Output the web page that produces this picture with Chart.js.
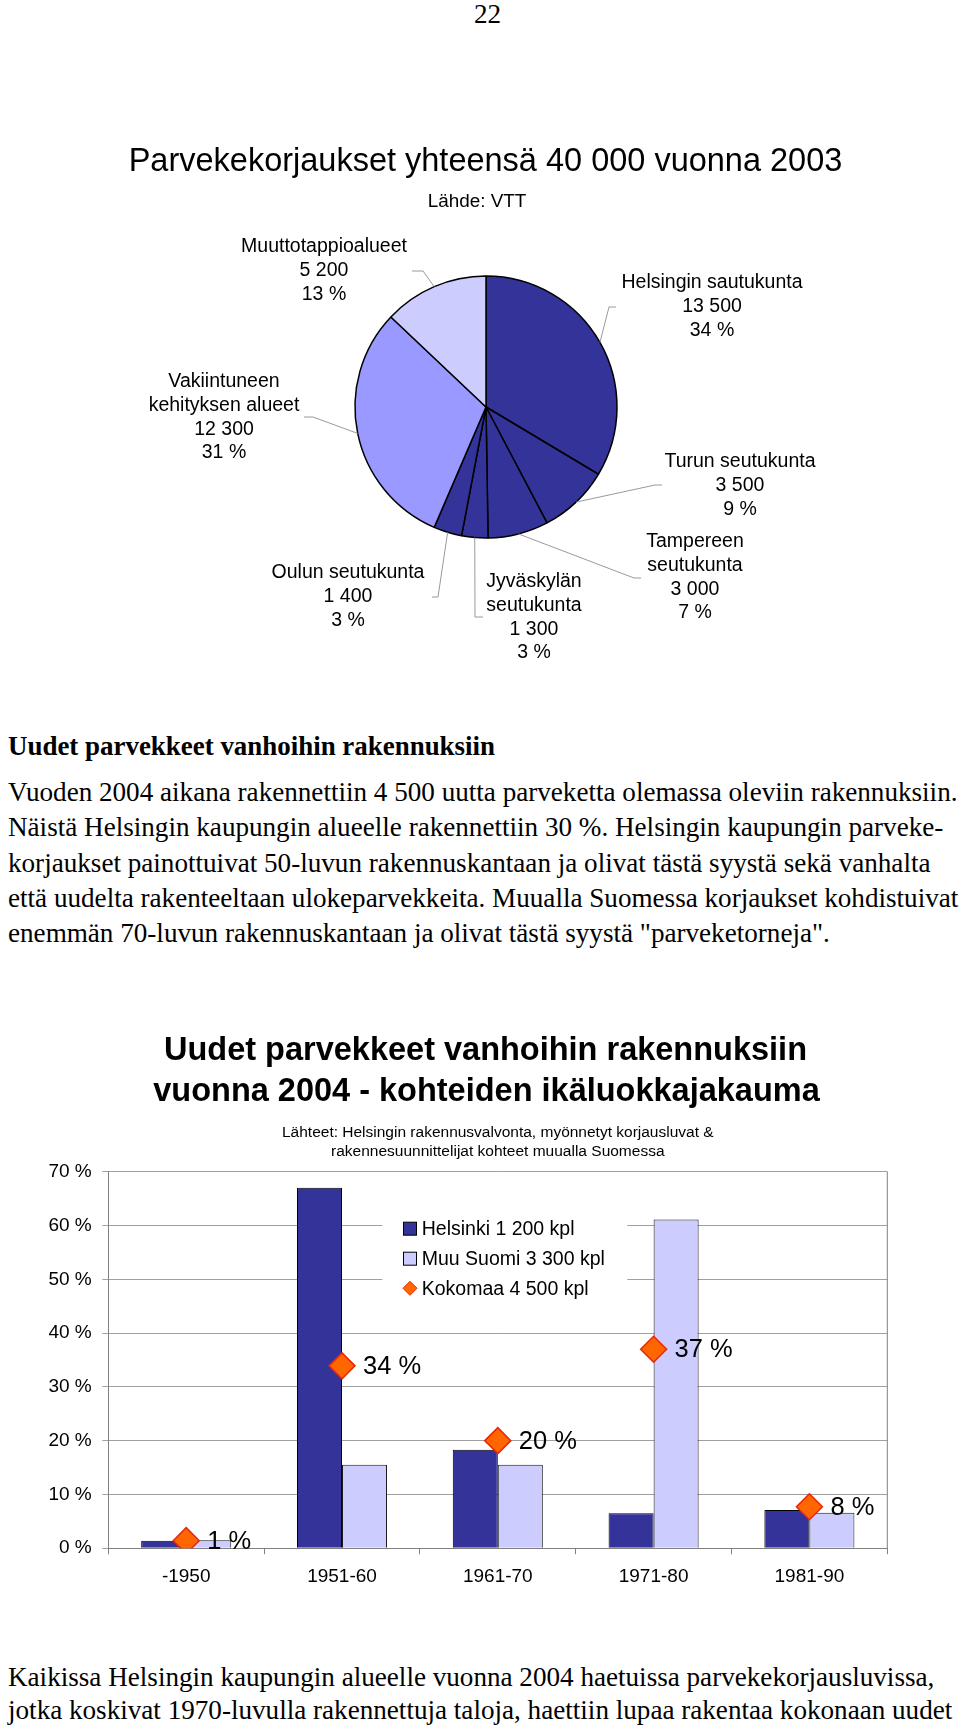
<!DOCTYPE html>
<html lang="fi">
<head>
<meta charset="utf-8">
<title>Parvekekorjaukset</title>
<script src="https://cdn.jsdelivr.net/npm/chart.js@4.4.1/dist/chart.umd.min.js"></script>
<style>
  html, body { margin: 0; padding: 0; background: #fff; }
  body { width: 960px; height: 1725px; position: relative; overflow: hidden; }
  .txt { position: absolute; left: 7.5px; white-space: nowrap; color: #000;
         font-family: "Liberation Serif", "Times New Roman", serif; font-size: 27.5px; line-height: 35px;
         transform-origin: 0 50%; }
  .b { font-weight: bold; }
  canvas { position: absolute; left: 0; }
</style>
</head>
<body>

<div class="txt" id="pageNo" style="top:-4px; left:474px;">22</div>

<canvas id="pie" width="960" height="550" style="top:130px"></canvas>

<div class="txt b" id="head" style="top:728px">Uudet parvekkeet vanhoihin rakennuksiin</div>
<div class="txt p" style="top:774px">Vuoden 2004 aikana rakennettiin 4 500 uutta parveketta olemassa oleviin rakennuksiin.</div>
<div class="txt p" style="top:809px">Näistä Helsingin kaupungin alueelle rakennettiin 30 %. Helsingin kaupungin parveke-</div>
<div class="txt p" style="top:845px">korjaukset painottuivat 50-luvun rakennuskantaan ja olivat tästä syystä sekä vanhalta</div>
<div class="txt p" style="top:880px">että uudelta rakenteeltaan ulokeparvekkeita. Muualla Suomessa korjaukset kohdistuivat</div>
<div class="txt p" style="top:915px">enemmän 70-luvun rakennuskantaan ja olivat tästä syystä "parveketorneja".</div>

<canvas id="bars" width="960" height="610" style="top:1010px"></canvas>

<div class="txt p" style="top:1659px">Kaikissa Helsingin kaupungin alueelle vuonna 2004 haetuissa parvekekorjausluvissa,</div>
<div class="txt p" style="top:1692px">jotka koskivat 1970-luvulla rakennettuja taloja, haettiin lupaa rakentaa kokonaan uudet</div>

<script>
// --- pie: parvekekorjaukset 2003 (Lähde: VTT) ---
var regions = [['Helsingin sautukunta'], ['Turun seutukunta'], ['Tampereen', 'seutukunta'],
  ['Jyväskylän', 'seutukunta'], ['Oulun seutukunta'], ['Vakiintuneen', 'kehityksen alueet'],
  ['Muuttotappioalueet']];
var repairs = [13500, 3500, 3000, 1300, 1400, 12300, 5200];

// --- bars: uudet parvekkeet 2004 ikäluokittain ---
var ageClasses = ['-1950', '1951-60', '1961-70', '1971-80', '1981-90'];
var seriesNames = ['Helsinki 1 200 kpl', 'Muu Suomi 3 300 kpl', 'Kokomaa 4 500 kpl'];
var helsinki = [1.4, 67.0, 18.3, 6.5, 7.1];
var muuSuomi = [1.5, 15.5, 15.5, 61.1, 6.6];
var kokomaa = [1.4, 33.9, 20.0, 37.0, 7.7];
var yTicks = [0, 10, 20, 30, 40, 50, 60, 70];

var SANS = '"Liberation Sans", Arial, sans-serif';
Chart.defaults.font.family = SANS;
Chart.defaults.color = '#000';

// serif text was printed a bit narrow, squeeze lines to the same widths
var paras = document.querySelectorAll('.p');
var sx = 949.5 / paras[0].getBoundingClientRect().width;
paras.forEach(function (el) { el.style.transform = 'scaleX(' + sx + ')'; });
document.getElementById('pageNo').style.transform = 'scaleX(' + sx + ')';
var head = document.getElementById('head');
head.style.transform = 'scaleX(' + (487 / head.getBoundingClientRect().width) + ')';

function fmt(n) { return String(n).replace(/\B(?=(\d{3})+(?!\d))/g, ' '); }

var pieColors = ['#333399', '#333399', '#333399', '#333399', '#333399', '#9999FF', '#CCCCFF'];
// label block centre x, first line y, leader elbow and end (page coords)
var pieLabelPos = [
  {x: 712, y: 283, elbow: [609, 307], end: [616, 307]},
  {x: 740, y: 462, elbow: [655, 485], end: [662, 485]},
  {x: 695, y: 542, elbow: [634, 578], end: [641, 578]},
  {x: 534, y: 582, elbow: [475, 617], end: [483, 617]},
  {x: 348, y: 573, elbow: [438, 597], end: [432, 597]},
  {x: 224, y: 382, elbow: [313, 417], end: [304, 417]},
  {x: 324, y: 247, elbow: [423, 271], end: [412, 271]}
];
var PIE_TOP = 130;

var pieLabels = {
  id: 'pieLabels',
  afterDraw: function (chart) {
    var ctx = chart.ctx;
    var arcs = chart.getDatasetMeta(0).data;
    var total = repairs.reduce(function (a, b) { return a + b; }, 0);
    ctx.save();
    ctx.strokeStyle = '#9a9a9a';
    ctx.lineWidth = 1;
    arcs.forEach(function (arc, i) {
      var p = pieLabelPos[i];
      var mid = (arc.startAngle + arc.endAngle) / 2;
      ctx.beginPath();
      ctx.moveTo(arc.x + Math.cos(mid) * arc.outerRadius, arc.y + Math.sin(mid) * arc.outerRadius);
      ctx.lineTo(p.elbow[0], p.elbow[1] - PIE_TOP);
      ctx.lineTo(p.end[0], p.end[1] - PIE_TOP);
      ctx.stroke();
    });
    ctx.fillStyle = '#000';
    ctx.textAlign = 'center';
    ctx.textBaseline = 'middle';
    ctx.font = '19.5px ' + SANS;
    regions.forEach(function (name, i) {
      var lines = name.concat([fmt(repairs[i]), Math.round(repairs[i] / total * 100) + ' %']);
      lines.forEach(function (t, k) {
        ctx.fillText(t, pieLabelPos[i].x, pieLabelPos[i].y - PIE_TOP + k * 23.7);
      });
    });
    ctx.font = '32.5px ' + SANS;
    ctx.fillText('Parvekekorjaukset yhteensä 40 000 vuonna 2003', 485.5, 162 - PIE_TOP);
    ctx.font = '18.9px ' + SANS;
    ctx.fillText('Lähde: VTT', 477, 202 - PIE_TOP);
    ctx.restore();
  }
};

new Chart(document.getElementById('pie'), {
  type: 'pie',
  data: {
    labels: regions,
    datasets: [{
      data: repairs,
      backgroundColor: pieColors,
      borderColor: '#000',
      borderWidth: 1.5
    }]
  },
  options: {
    responsive: false,
    animation: false,
    layout: {padding: {left: 354.25, right: 342.25, top: 145.25, bottom: 141.25}},
    plugins: {
      legend: {display: false},
      tooltip: {enabled: false}
    }
  },
  plugins: [pieLabels]
});

var barExtras = {
  id: 'barExtras',
  beforeDatasetsDraw: function (chart) {
    var ctx = chart.ctx, a = chart.chartArea;
    ctx.save();
    // plot frame, right side
    ctx.strokeStyle = '#808080';
    ctx.lineWidth = 1;
    ctx.beginPath();
    ctx.moveTo(a.right, a.top);
    ctx.lineTo(a.right, a.bottom);
    ctx.stroke();
    // legend box inside the plot
    var lx = a.left + 274, ly = a.top + 28;
    ctx.fillStyle = '#fff';
    ctx.fillRect(lx, ly, 245, 106);
    var ds = chart.data.datasets;
    var mx = a.left + 301.7;
    var rows = [a.top + 57, a.top + 87, a.top + 116.6];
    for (var i = 0; i < 2; i++) {
      ctx.fillStyle = ds[i].backgroundColor;
      ctx.fillRect(mx - 6.5, rows[i] - 6.5, 13, 13);
      ctx.strokeStyle = '#000';
      ctx.strokeRect(mx - 6.5, rows[i] - 6.5, 13, 13);
    }
    ctx.beginPath();
    ctx.moveTo(mx - 7, rows[2]);
    ctx.lineTo(mx, rows[2] - 7);
    ctx.lineTo(mx + 7, rows[2]);
    ctx.lineTo(mx, rows[2] + 7);
    ctx.closePath();
    ctx.fillStyle = ds[2].pointBackgroundColor;
    ctx.fill();
    ctx.strokeStyle = ds[2].pointBorderColor;
    ctx.stroke();
    ctx.fillStyle = '#000';
    ctx.font = '19.5px ' + SANS;
    ctx.textAlign = 'left';
    ctx.textBaseline = 'middle';
    for (var j = 0; j < 3; j++) ctx.fillText(ds[j].label, a.left + 313.4, rows[j] + 1);
    ctx.restore();
  },
  afterDatasetsDraw: function (chart) {
    var ctx = chart.ctx;
    var pts = chart.getDatasetMeta(2).data;
    ctx.save();
    ctx.fillStyle = '#000';
    ctx.font = '25.5px ' + SANS;
    ctx.textAlign = 'left';
    ctx.textBaseline = 'middle';
    pts.forEach(function (p, i) {
      ctx.fillText(Math.round(kokomaa[i]) + ' %', p.x + 21, p.y + 1);
    });
    // main heading, centred a bit left of the plot like in the print
    ctx.font = 'bold 32.5px ' + SANS;
    ctx.textAlign = 'center';
    ctx.fillText('Uudet parvekkeet vanhoihin rakennuksiin', 485.5, 41.3);
    ctx.fillText('vuonna 2004 - kohteiden ikäluokkajakauma', 486.5, 82);
    ctx.restore();
  }
};

new Chart(document.getElementById('bars'), {
  type: 'bar',
  data: {
    labels: ageClasses,
    datasets: [
      {label: seriesNames[0], data: helsinki, backgroundColor: '#333399', borderColor: '#000',
        borderWidth: 1, categoryPercentage: 0.578, barPercentage: 1, order: 2},
      {label: seriesNames[1], data: muuSuomi, backgroundColor: '#CCCCFF', borderColor: '#1a1a1a',
        borderWidth: 1, categoryPercentage: 0.578, barPercentage: 1, order: 2},
      {type: 'line', label: seriesNames[2], data: kokomaa, showLine: false, pointStyle: 'rectRot',
        pointRadius: 13, pointHoverRadius: 13, pointBackgroundColor: '#FF6600',
        pointBorderColor: '#E8260C', pointBorderWidth: 1.5, order: 0}
    ]
  },
  options: {
    responsive: false,
    animation: false,
    layout: {padding: {left: 0, right: 72.7, top: 0, bottom: 32}},
    plugins: {
      legend: {display: false},
      tooltip: {enabled: false},
      subtitle: {
        display: true,
        fullSize: false,
        text: ['Lähteet: Helsingin rakennusvalvonta, myönnetyt korjausluvat &',
          'rakennesuunnittelijat kohteet muualla Suomessa'],
        font: {size: 15.5, lineHeight: 1.258},
        color: '#000',
        padding: {top: 112.75, bottom: 9.95}
      }
    },
    scales: {
      x: {
        grid: {drawOnChartArea: false, tickLength: 6, color: '#808080'},
        border: {color: '#808080'},
        ticks: {font: {size: 19}, color: '#000', padding: 11},
        afterFit: function (s) { s.height = 39.8; }
      },
      y: {
        min: yTicks[0],
        max: yTicks[yTicks.length - 1],
        ticks: {stepSize: yTicks[1] - yTicks[0], font: {size: 19}, color: '#000', padding: 10.6,
          callback: function (v) { return v + ' %'; }},
        grid: {color: '#a0a0a0', tickLength: 6},
        border: {color: '#808080'},
        afterFit: function (s) { s.width = 108.3; }
      }
    }
  },
  plugins: [barExtras]
});
</script>
</body>
</html>
